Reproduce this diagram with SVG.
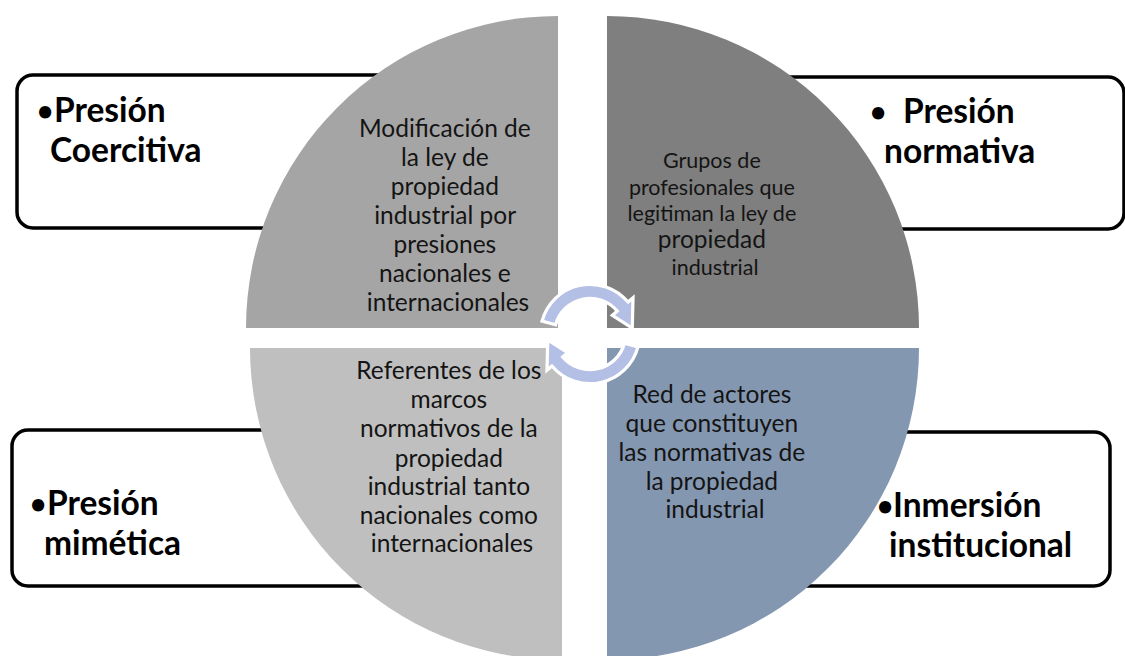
<svg xmlns="http://www.w3.org/2000/svg" xmlns:xlink="http://www.w3.org/1999/xlink" width="1125" height="656" viewBox="0 0 1125 656">
  <style>
    .box { fill: #ffffff; stroke: #000000; stroke-width: 3.5; }
    .lbl { font-family: Lato, "Open Sans", sans-serif; font-weight: bold; font-size: 33.5px; fill: #000000; }
    .bul { font-size: 28px; }
    .qt { font-family: Lato, "Open Sans", sans-serif; font-size: 24.5px; fill: #141414; text-anchor: middle; }
    .qs { font-size: 21.5px; }
    .ring { fill: #b3bfe4; stroke: #ffffff; stroke-width: 3; stroke-linejoin: miter; }
  </style>
  <defs>
    <path id="arc-arrow" d="M545.57,322.10 A46,46 0 0 1 625.24,304.43 L629.83,300.57 L629.12,328.50 L610.68,316.64 L615.28,312.79 A33,33 0 0 0 558.13,325.46 Z"/>
  </defs>
  <rect width="1125" height="656" fill="#ffffff"/>

  <!-- label boxes (behind quadrants) -->
  <g id="node-presion-coercitiva">
    <rect class="box" x="17" y="75" width="480" height="153" rx="16"/>
    <text class="lbl"><tspan class="bul" x="37" y="121">•</tspan><tspan x="54" y="122">Presión</tspan><tspan x="50" y="162">Coercitiva</tspan></text>
  </g>
  <g id="node-presion-normativa">
    <rect class="box" x="700" y="77" width="424" height="152" rx="16"/>
    <text class="lbl"><tspan class="bul" x="870" y="122">•</tspan><tspan x="903" y="123">Presión</tspan><tspan x="884" y="163">normativa</tspan></text>
  </g>
  <g id="node-presion-mimetica">
    <rect class="box" x="12" y="430" width="480" height="156" rx="16"/>
    <text class="lbl"><tspan class="bul" x="30" y="514">•</tspan><tspan x="47" y="515">Presión</tspan><tspan x="44" y="555">mimética</tspan></text>
  </g>
  <g id="node-inmersion-institucional">
    <rect class="box" x="640" y="432" width="470" height="154" rx="16"/>
    <text class="lbl"><tspan class="bul" x="877" y="516">•</tspan><tspan x="893" y="517">Inmersión</tspan><tspan x="889" y="557">institucional</tspan></text>
  </g>

  <!-- quadrants -->
  <g id="node-q-coercitiva">
    <path d="M558,328 L246,328 A312,312 0 0 1 558,16 Z" fill="#a5a5a5"/>
    <text class="qt">
      <tspan x="448" y="137">Modificación de</tspan>
      <tspan x="448" y="166">la ley de</tspan>
      <tspan x="448" y="195">propiedad</tspan>
      <tspan x="448" y="224">industrial por</tspan>
      <tspan x="448" y="253">presiones</tspan>
      <tspan x="448" y="282">nacionales e</tspan>
      <tspan x="448" y="311">internacionales</tspan>
    </text>
  </g>
  <g id="node-q-normativa">
    <path d="M607,328 L607,16 A312,312 0 0 1 919,328 Z" fill="#7f7f7f"/>
    <text class="qt">
      <tspan class="qs" x="715" y="168">Grupos de</tspan>
      <tspan class="qs" x="715" y="195">profesionales que</tspan>
      <tspan class="qs" x="715" y="221">legitiman la ley de</tspan>
      <tspan x="715" y="248">propiedad</tspan>
      <tspan class="qs" x="715" y="275">industrial</tspan>
    </text>
  </g>
  <g id="node-q-mimetica">
    <path d="M562,348 L562,660 A312,312 0 0 1 250,348 Z" fill="#bfbfbf"/>
    <text class="qt">
      <tspan x="452" y="379">Referentes de los</tspan>
      <tspan x="452" y="408">marcos</tspan>
      <tspan x="452" y="437">normativos de la</tspan>
      <tspan x="452" y="467">propiedad</tspan>
      <tspan x="452" y="495">industrial tanto</tspan>
      <tspan x="452" y="524">nacionales como</tspan>
      <tspan x="452" y="552">internacionales</tspan>
    </text>
  </g>
  <g id="node-q-inmersion">
    <path d="M607,348 L919,348 A312,312 0 0 1 607,660 Z" fill="#8497b0"/>
    <text class="qt">
      <tspan x="715" y="403">Red de actores</tspan>
      <tspan x="715" y="432">que constituyen</tspan>
      <tspan x="715" y="461">las normativas de</tspan>
      <tspan x="715" y="490">la propiedad</tspan>
      <tspan x="715" y="518">industrial</tspan>
    </text>
  </g>

  <!-- connectors: central circular arrows -->
  <g id="connectors" transform="translate(590 334) scale(1.08) translate(-590 -334)">
    <use xlink:href="#arc-arrow" href="#arc-arrow" class="ring"/>
    <use xlink:href="#arc-arrow" href="#arc-arrow" class="ring" transform="rotate(180 590 334)"/>
  </g>
</svg>
